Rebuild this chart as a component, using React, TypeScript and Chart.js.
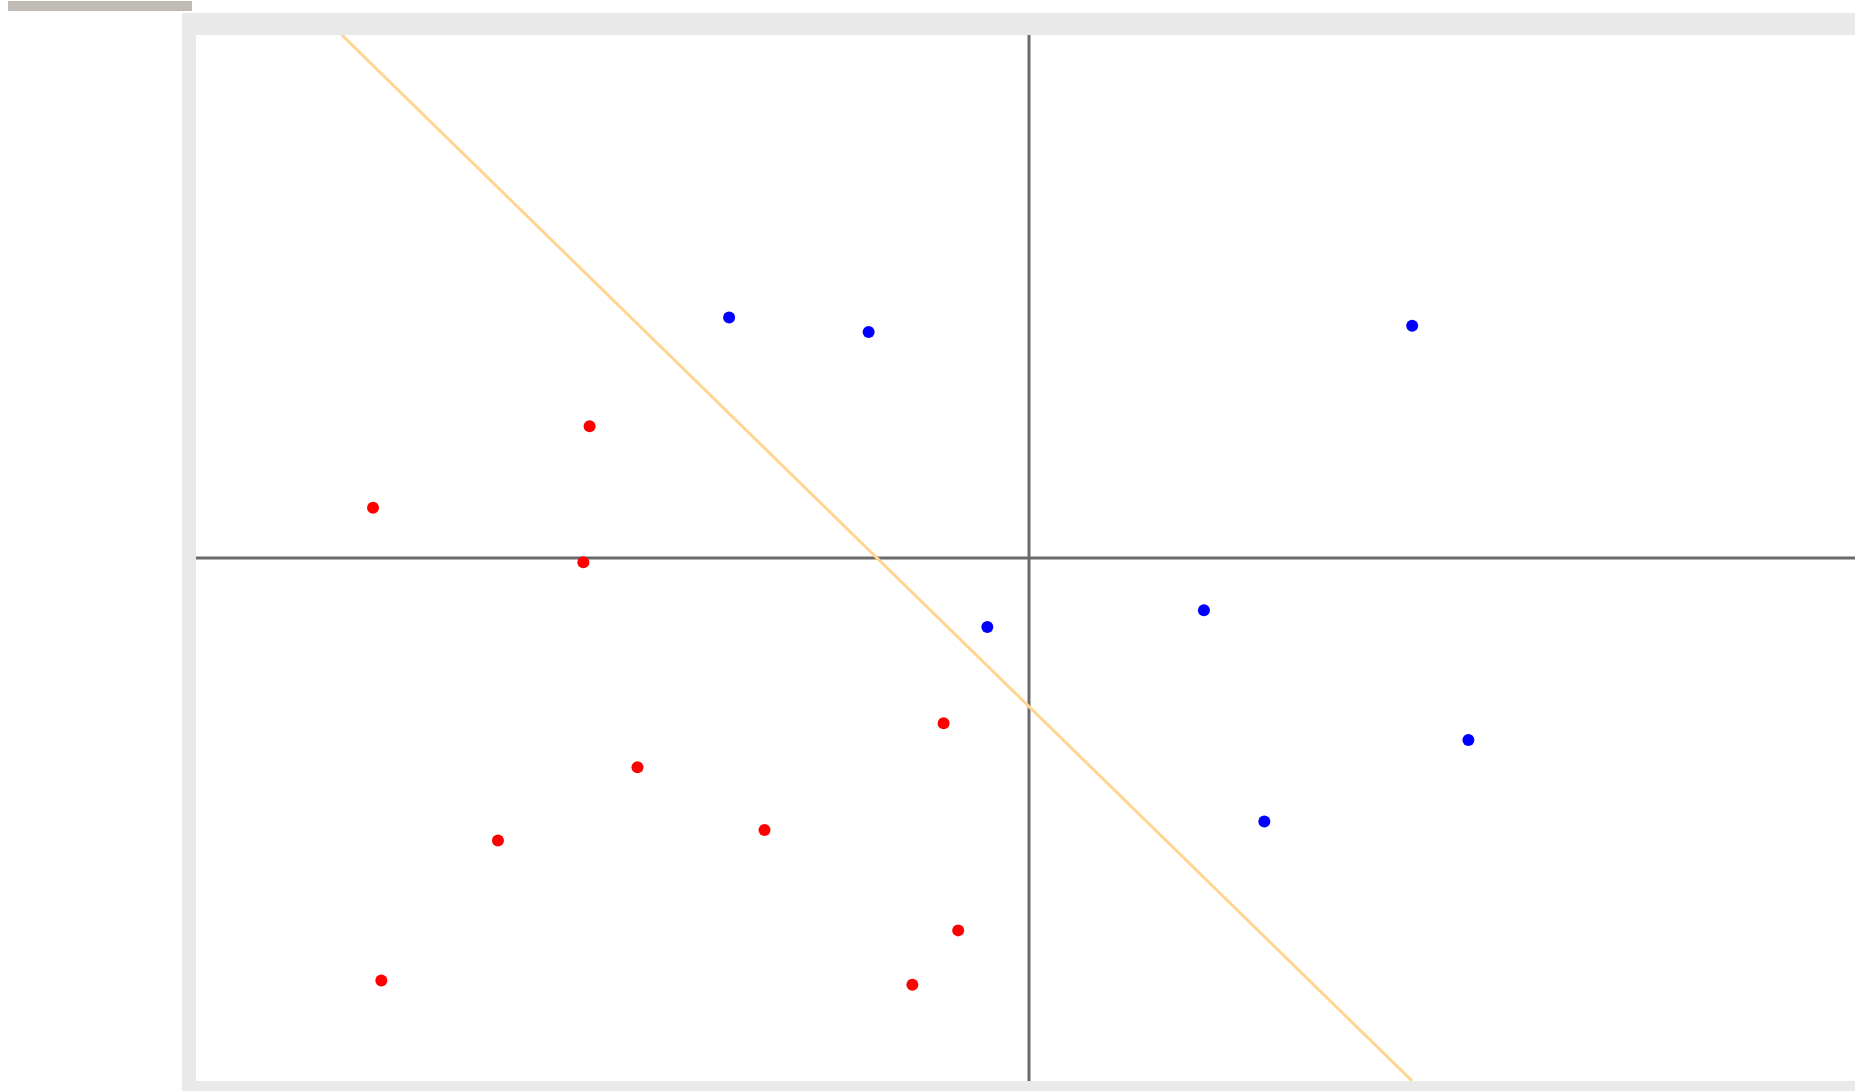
import React, { useEffect, useRef } from "react";
import { Chart, registerables } from "chart.js";

Chart.register(...registerables);

// Data (canvas-style units: x in [-400, 400], y in [-250, 250])
const blueX = [-144, -77, 184, -20, 84, 211, 113];
const blueY = [115, 108, 111, -33, -25, -87, -126];

const redX = [-211, -315, -214, -41, -188, -255, -127, -34, -311, -56];
const redY = [63, 24, -2, -79, -100, -135, -130, -178, -202, -204];

const boundaryX = [-330, 184];
const boundaryY = [250, -250];

const xRange = [-400, 400];
const yRange = [-250, 250];

const zip = (xs: number[], ys: number[]) => xs.map((x, i) => ({ x, y: ys[i] }));

export default function App() {
  const ref = useRef<HTMLCanvasElement | null>(null);

  useEffect(() => {
    if (!ref.current) return;
    const chart = new Chart(ref.current, {
      type: "scatter",
      data: {
        datasets: [
          {
            label: "x-axis",
            data: [
              { x: xRange[0], y: 0 },
              { x: xRange[1], y: 0 },
            ],
            showLine: true,
            borderColor: "#6a6a6a",
            borderWidth: 3,
            pointRadius: 0,
            order: 5,
          },
          {
            label: "y-axis",
            data: [
              { x: 0, y: yRange[0] },
              { x: 0, y: yRange[1] },
            ],
            showLine: true,
            borderColor: "#6a6a6a",
            borderWidth: 3,
            pointRadius: 0,
            order: 5,
          },
          {
            label: "boundary",
            data: zip(boundaryX, boundaryY),
            showLine: true,
            borderColor: "#ffd591",
            borderWidth: 3,
            pointRadius: 0,
            order: 3,
          },
          {
            label: "blue",
            data: zip(blueX, blueY),
            backgroundColor: "#0000ff",
            borderColor: "#0000ff",
            borderWidth: 0,
            pointRadius: 6,
            order: 1,
          },
          {
            label: "red",
            data: zip(redX, redY),
            backgroundColor: "#ff0000",
            borderColor: "#ff0000",
            borderWidth: 0,
            pointRadius: 6,
            order: 1,
          },
        ],
      },
      options: {
        animation: false,
        responsive: false,
        maintainAspectRatio: false,
        devicePixelRatio: 1,
        layout: { padding: 0, autoPadding: false } as any,
        clip: false as any,
        plugins: {
          legend: { display: false },
          tooltip: { enabled: false },
        },
        scales: {
          x: { type: "linear", min: xRange[0], max: xRange[1], display: false },
          y: { type: "linear", min: yRange[0], max: yRange[1], display: false },
        },
      },
    });
    return () => chart.destroy();
  }, []);

  return (
    <div
      style={{
        position: "fixed",
        left: 0,
        top: 0,
        width: 1855,
        height: 1091,
        overflow: "hidden",
        background: "#ffffff",
      }}
    >
      <div
        style={{
          position: "absolute",
          left: 8,
          top: 1,
          width: 184,
          height: 10,
          background: "#c0bbb4",
        }}
      />
      <div
        style={{
          position: "absolute",
          left: 182,
          top: 13,
          width: 1700,
          height: 1100,
          background: "#e9e9e9",
        }}
      />
      <div
        style={{
          position: "absolute",
          left: 196,
          top: 35,
          width: 1666,
          height: 1046,
          background: "#ffffff",
        }}
      >
        <canvas
          ref={ref}
          width={1666}
          height={1046}
          style={{ display: "block", width: 1666, height: 1046 }}
        />
      </div>
    </div>
  );
}
